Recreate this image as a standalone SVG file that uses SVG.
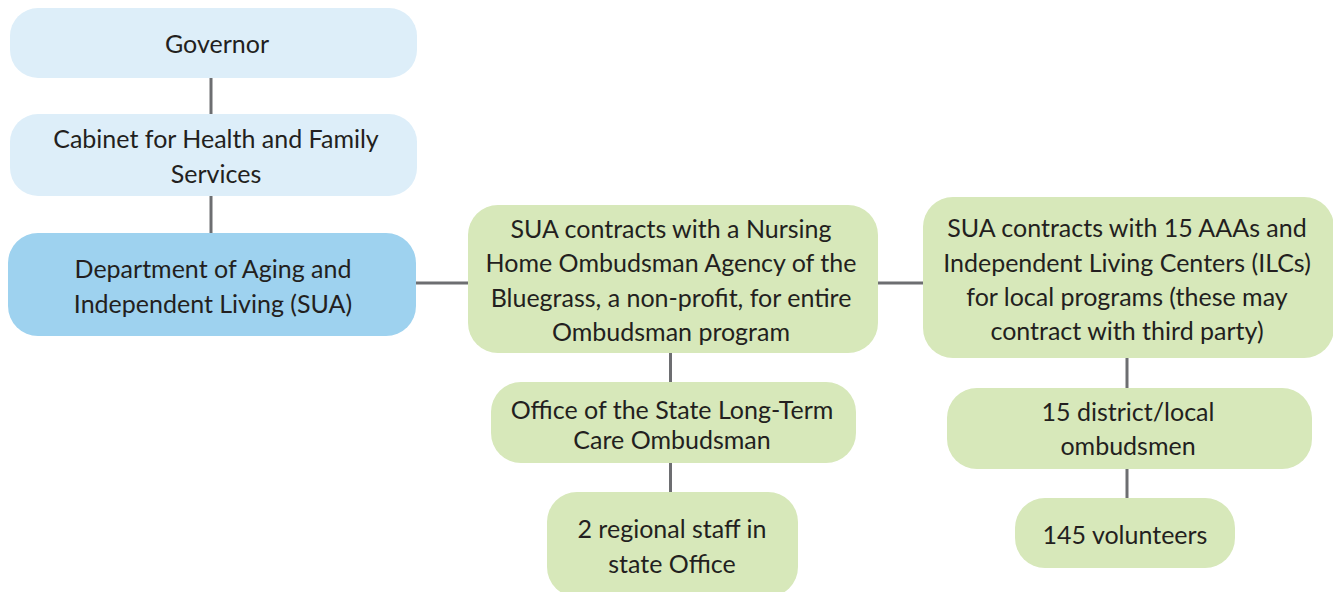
<svg xmlns="http://www.w3.org/2000/svg" width="1333" height="592" viewBox="0 0 1333 592">
<style>
.lb{fill:#ddeef9}
.db{fill:#9ed2ef}
.gr{fill:#d7e8ba}
text{font-family:Lato,"Liberation Sans",sans-serif;font-size:25px;fill:#231f20;text-anchor:middle}
.c{stroke:#6d6e71;stroke-width:3;fill:none}
</style>
<rect width="1333" height="592" fill="#ffffff"/>
<g id="connectors">
<line class="c" x1="211" y1="78" x2="211" y2="114"/>
<line class="c" x1="211" y1="196" x2="211" y2="233"/>
<line class="c" x1="416" y1="283" x2="468" y2="283"/>
<line class="c" x1="878" y1="283" x2="924" y2="283"/>
<line class="c" x1="670.5" y1="353" x2="670.5" y2="382"/>
<line class="c" x1="670.5" y1="463" x2="670.5" y2="492"/>
<line class="c" x1="1127" y1="358" x2="1127" y2="388"/>
<line class="c" x1="1127" y1="468" x2="1127" y2="499"/>
</g>
<g id="governor">
<rect class="lb" x="10" y="8" width="407" height="70" rx="28"/>
<text x="217" y="53">Governor</text>
</g>
<g id="cabinet">
<rect class="lb" x="10" y="114" width="407" height="82" rx="28"/>
<text x="216" y="148">Cabinet for Health and Family</text>
<text x="216" y="183">Services</text>
</g>
<g id="dept">
<rect class="db" x="8" y="233" width="408" height="103" rx="30"/>
<text x="213" y="278">Department of Aging and</text>
<text x="213" y="313">Independent Living (SUA)</text>
</g>
<g id="nursing">
<rect class="gr" x="468" y="205" width="410" height="148" rx="30"/>
<text x="671" y="238">SUA contracts with a Nursing</text>
<text x="671" y="272">Home Ombudsman Agency of the</text>
<text x="671" y="307">Bluegrass, a non-profit, for entire</text>
<text x="671" y="341">Ombudsman program</text>
</g>
<g id="ilc">
<rect class="gr" x="923" y="197" width="411" height="161" rx="30"/>
<text x="1127" y="237">SUA contracts with 15 AAAs and</text>
<text x="1127" y="272">Independent Living Centers (ILCs)</text>
<text x="1127" y="306">for local programs (these may</text>
<text x="1127" y="340">contract with third party)</text>
</g>
<g id="office">
<rect class="gr" x="491" y="382" width="365" height="81" rx="30"/>
<text x="672" y="419">Office of the State Long-Term</text>
<text x="672" y="449">Care Ombudsman</text>
</g>
<g id="regional">
<rect class="gr" x="547" y="492" width="251" height="105" rx="30"/>
<text x="672" y="538">2 regional staff in</text>
<text x="672" y="573">state Office</text>
</g>
<g id="district">
<rect class="gr" x="947" y="388" width="365" height="81" rx="30"/>
<text x="1128" y="421">15 district/local</text>
<text x="1128" y="455">ombudsmen</text>
</g>
<g id="volunteers">
<rect class="gr" x="1015" y="498" width="220" height="70" rx="30"/>
<text x="1125" y="544">145 volunteers</text>
</g>
</svg>
